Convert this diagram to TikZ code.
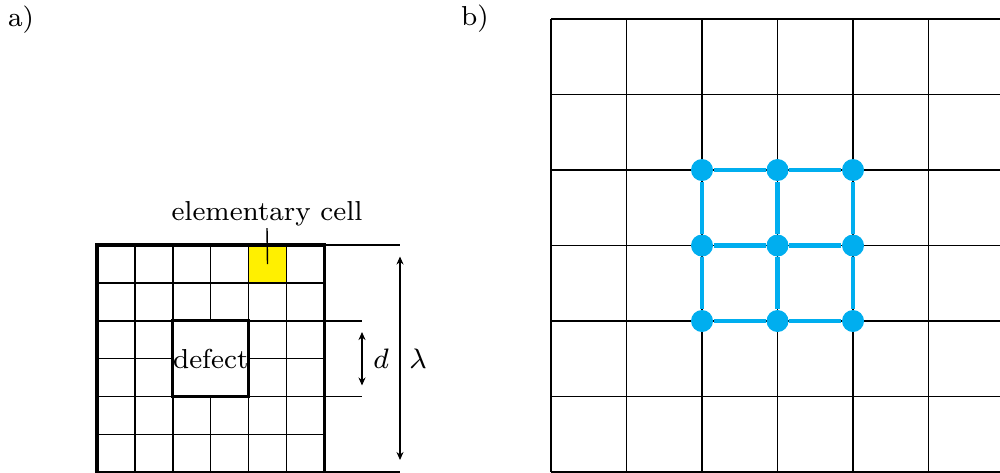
\documentclass[tikz,border=0pt]{standalone}
\usepackage{amsmath}
\usetikzlibrary{arrows.meta,positioning}
\definecolor{cellyellow}{RGB}{255,240,0}
\definecolor{latticeblue}{RGB}{0,174,239}
\tikzset{
  gridline/.style={line width=0.4pt},
  border/.style={line width=0.95pt},
  lbl/.style={inner sep=0.5pt, font=\fontsize{7.8}{10}\selectfont},
  defectbox/.style={draw, line width=0.95pt, inner sep=0pt, minimum size=0.758cm, font=\fontsize{7.8}{10}\selectfont},
  dimarrow/.style={{Stealth[length=0.8mm,width=0.7mm]}-{Stealth[length=0.8mm,width=0.7mm]}, line width=0.4pt},
  site/.style={circle, fill=latticeblue, inner sep=0pt, minimum size=0.22cm},
  bond/.style={draw=latticeblue, line width=1.15pt}
}

\begin{document}
\begin{tikzpicture}[x=0.01cm, y=-0.01cm]
  \useasboundingbox (0,0) rectangle (1000,472);

  % a) elementary cells and defect
  \node[lbl] (pa) at (21,20) {a)};
  \fill[cellyellow] (248.6,245) rectangle +(37.9,37.9);
  \foreach \k in {1,...,5} {
    \draw[gridline] (97+37.9*\k,245) -- (97+37.9*\k,472.4);
    \draw[gridline] (97,245+37.9*\k) -- (324.4,245+37.9*\k);
  }
  \draw[border] (97,245) rectangle (324.4,472.4);
  \node[defectbox, fill=white] (defect) at (210.7,358.7) {defect};

  \coordinate (ycell) at (267.5,264);
  \node[lbl, anchor=base] (elabel) at (267,220) {elementary cell};
  \draw[gridline] (elabel.south) -- (ycell);

  \draw[gridline] (324.4,245) -- (400,245);
  \draw[gridline] (324.4,320.8) -- (362,320.8);
  \draw[gridline] (324.4,396.6) -- (362,396.6);
  \draw[gridline] (324.4,472) -- (400,472);

  \coordinate (dtop) at (362,332);
  \coordinate (dbot) at (362,385.5);
  \coordinate (lamtop) at (400,256.5);
  \coordinate (lambot) at (400,460);
  \draw[dimarrow] (dtop) -- (dbot);
  \draw[dimarrow] (lamtop) -- (lambot);
  \node[lbl] (dlab) at (381,359) {$d$};
  \node[lbl] (lamlab) at (418,359) {$\lambda$};

  % b) lattice with sites
  \node[lbl] (pb) at (475,19) {b)};
  \foreach \k in {0,...,5}
    \draw[gridline] (551+75.5*\k,19) -- (551+75.5*\k,472);
  \foreach \k in {0,...,6}
    \draw[gridline] (551,19+75.5*\k) -- (1000,19+75.5*\k);

  \foreach \i in {1,2,3}
    \foreach \j in {1,2,3}
      \node[site] (s\i\j) at (626.5+75.5*\i,94.5+75.5*\j) {};

  \foreach \a/\b in {s11/s21,s21/s31,s12/s22,s22/s32,s13/s23,s23/s33,s11/s12,s12/s13,s21/s22,s22/s23,s31/s32,s32/s33}
    \draw[bond] (\a) -- (\b);
\end{tikzpicture}
\end{document}
